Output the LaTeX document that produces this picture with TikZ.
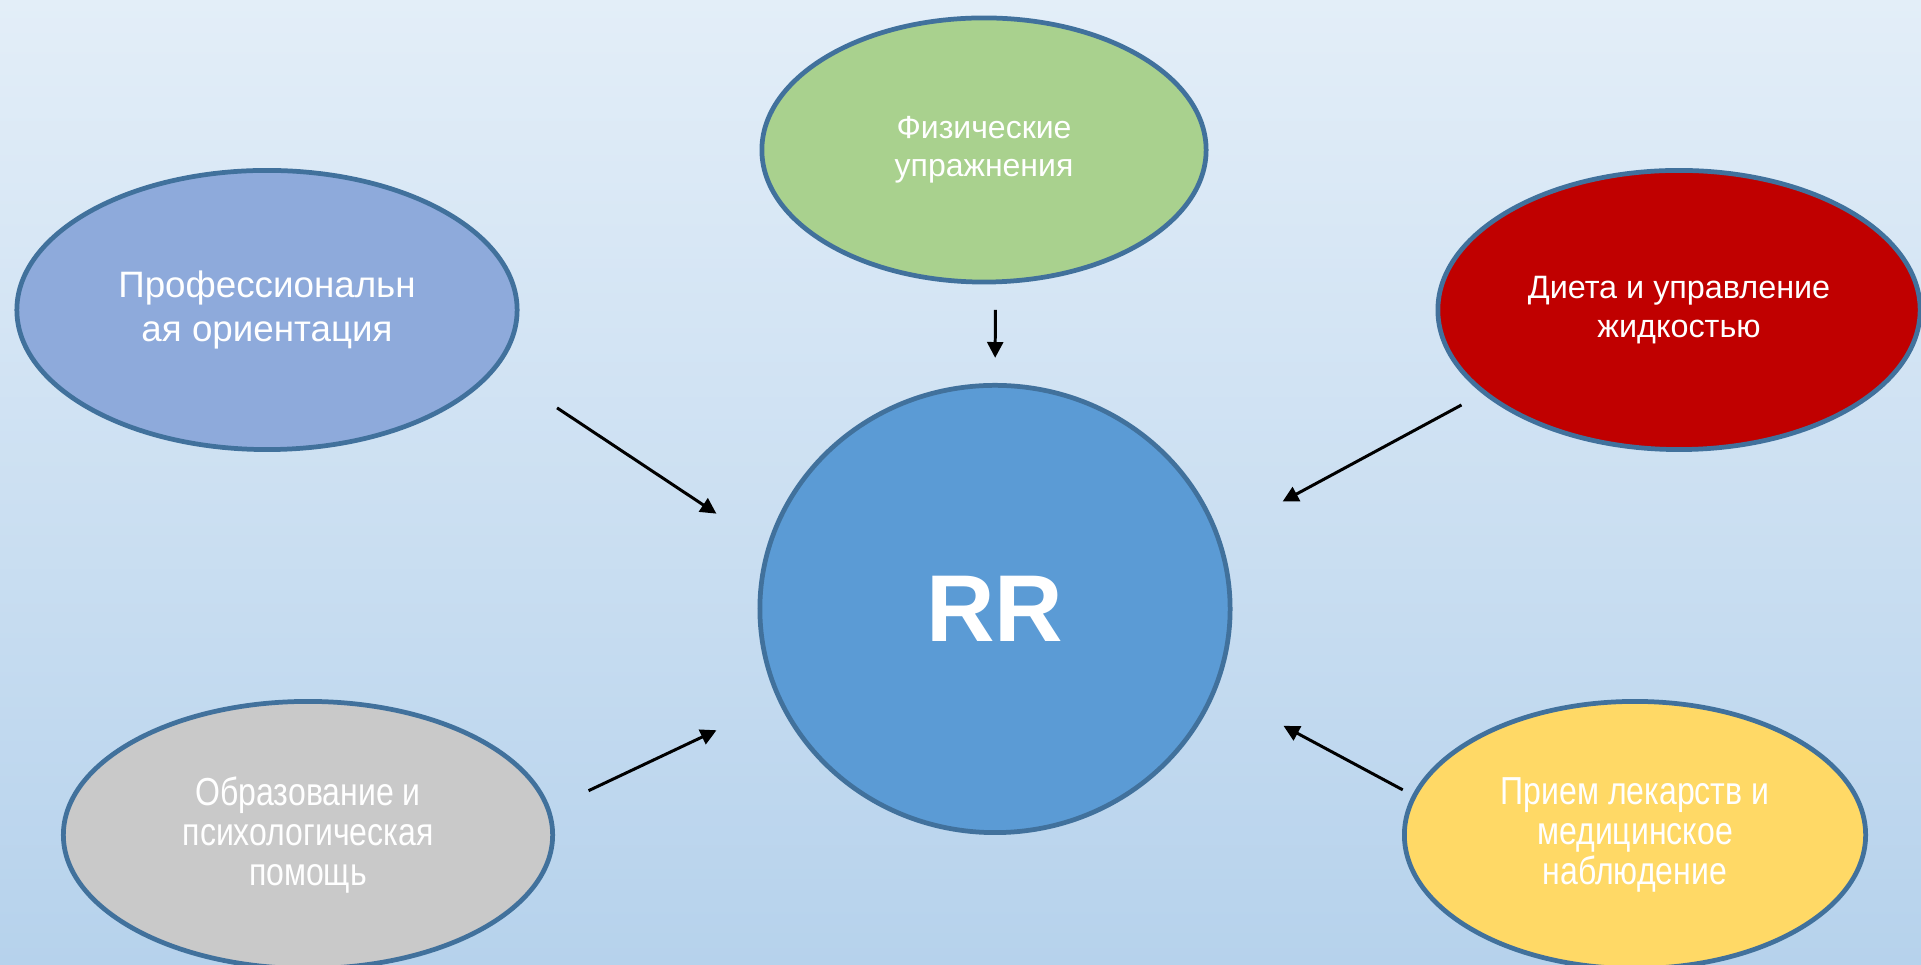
\documentclass[tikz,border=0pt]{standalone}
\usepackage{fontspec}
\setmainfont{Liberation Sans}
\newfontfamily\narrowfont{Liberation Sans}[FakeStretch=0.82]
\usetikzlibrary{shapes.geometric, arrows.meta}

\definecolor{bgtop}{HTML}{E3EEF8}
\definecolor{bgbot}{HTML}{B6D2EC}
\definecolor{edgeblue}{HTML}{41719C}
\definecolor{rrblue}{HTML}{5B9BD5}
\definecolor{physgreen}{HTML}{A9D18E}
\definecolor{profblue}{HTML}{8EAADB}
\definecolor{dietred}{HTML}{C00000}
\definecolor{edugray}{HTML}{C9C9C9}
\definecolor{medyellow}{HTML}{FFD966}

\begin{document}
\begin{tikzpicture}[
        x=0.01cm, y=-0.01cm,
        bubble/.style={ellipse, draw=edgeblue, line width=1.35pt, inner sep=0pt, outer sep=0pt, text=white, align=center},
        arrow/.style={->, >={Triangle[length=4.5pt, width=4.5pt]}, line width=0.85pt, black}
    ]
        \useasboundingbox (0,0) rectangle (1921,965);
        \shade[top color=bgtop, bottom color=bgbot] (0,0) rectangle (1921,965);

        \node[bubble, fill=rrblue, minimum width=4.70cm, minimum height=4.47cm, font=\bfseries\fontsize{27}{32}\selectfont] (rr) at (995,609) {RR};

        \node[bubble, fill=physgreen, minimum width=4.44cm, minimum height=2.64cm, font=\fontsize{9.1}{10.9}\selectfont] (phys) at (984,150) {Физические\\упражнения};
        \node[bubble, fill=profblue, minimum width=5.00cm, minimum height=2.79cm, font=\fontsize{10.45}{12.3}\selectfont] (prof) at (267,310) {Профессиональн\\ая ориентация};
        \node[bubble, fill=dietred, minimum width=4.82cm, minimum height=2.79cm, font=\fontsize{9.2}{10.9}\selectfont] (diet) at (1679,310) {Диета и управление\\жидкостью};
        \node[bubble, fill=edugray, minimum width=4.89cm, minimum height=2.67cm, font=\narrowfont\fontsize{11.1}{11.4}\selectfont] (edu) at (308,835) {Образование и\\психологическая\\помощь};
        \node[bubble, fill=medyellow, minimum width=4.61cm, minimum height=2.67cm, font=\narrowfont\fontsize{11.1}{11.4}\selectfont] (med) at (1635,835) {Прием лекарств и\\медицинское\\наблюдение};

        \draw[arrow, shorten <=0.28cm, shorten >=0.275cm] (phys.-85) -- (rr.90);
        \draw[arrow, shorten <=0.74cm, shorten >=0.627cm] (prof.-14.3) -- (rr.165.6);
        \draw[arrow, shorten <=0.262cm, shorten >=0.739cm] (diet.-157.8) -- (rr.18);
        \draw[arrow, shorten <=0.446cm, shorten >=0.705cm] (edu.6.04) -- (rr.-157.9);
        \draw[arrow, shorten <=0.132cm, shorten >=0.782cm] (med.170.05) -- (rr.-20.7);
    \end{tikzpicture}
\end{document}
